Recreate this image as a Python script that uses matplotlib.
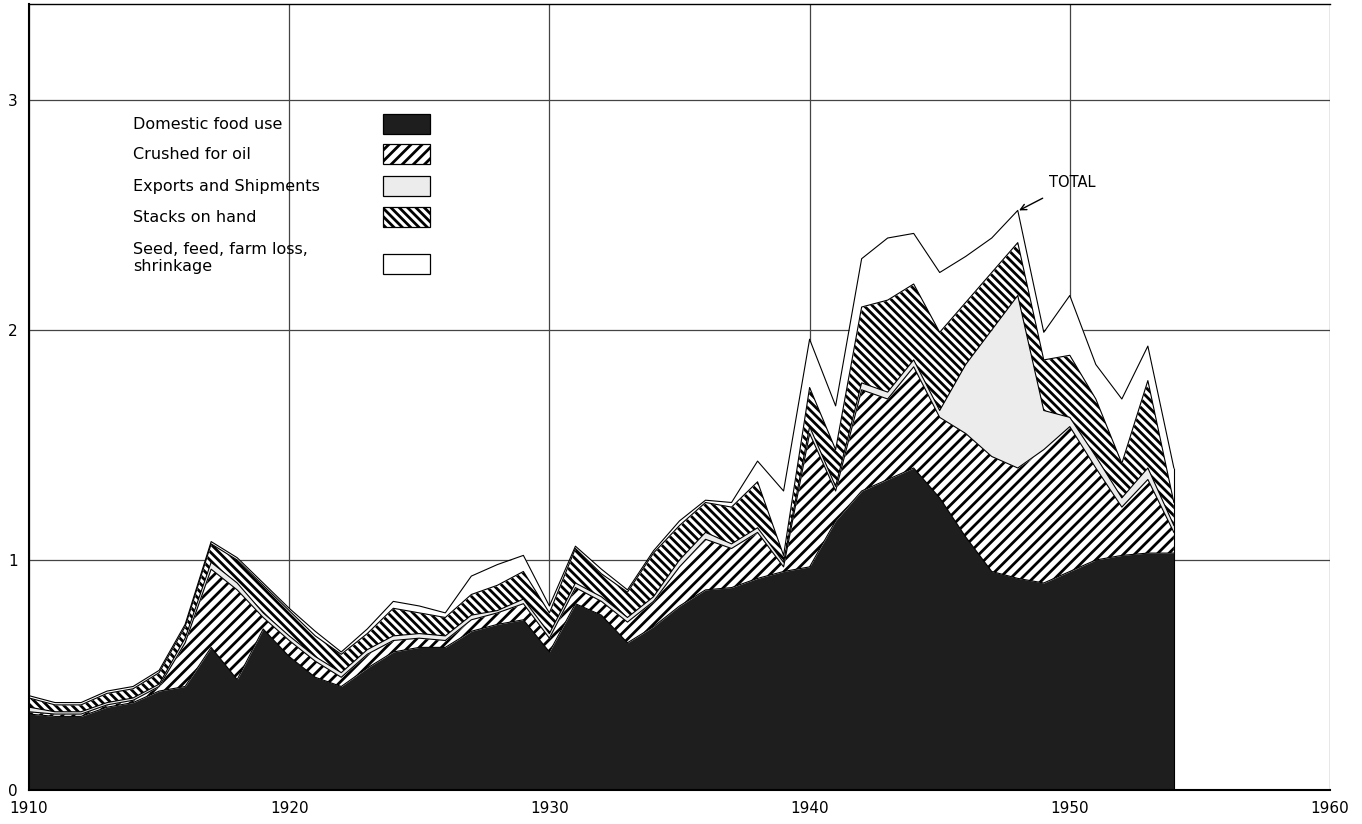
import numpy as np
import matplotlib
matplotlib.use("Agg")
from matplotlib import pyplot as plt
from matplotlib.patches import Rectangle

years = list(range(1910, 1955))

# layer values, bottom to top
food = [.33, .32, .32, .36, .38, .43, .45, .62, .48, .70,
        .58, .49, .45, .53, .60, .62, .62, .69, .72, .74,
        .60, .81, .76, .64, .71, .80, .87, .88, .92, .95,
        .97, 1.17, 1.30, 1.35, 1.40, 1.27, 1.10, .95, .92, .90,
        .95, 1.00, 1.02, 1.03, 1.03]
crushed = [.01, .01, .01, .01, .01, .02, .19, .34, .39, .05,
           .07, .07, .04, .06, .05, .04, .03, .05, .05, .07,
           .06, .07, .06, .09, .11, .17, .22, .17, .20, .02,
           .58, .13, .44, .35, .44, .35, .45, .50, .48, .58,
           .63, .40, .21, .32, .09]
exports = [.02, .01, .01, .01, .01, .01, .02, .03, .03, .02,
           .02, .02, .02, .02, .02, .02, .02, .02, .01, .02,
           .02, .02, .02, .02, .02, .03, .03, .02, .02, .02,
           .03, .02, .03, .03, .03, .03, .30, .55, .75, .17,
           .04, .05, .04, .05, .03]
stocks = [.04, .03, .03, .04, .04, .05, .05, .08, .10, .12,
          .11, .09, .08, .07, .12, .09, .08, .09, .11, .12,
          .09, .15, .10, .11, .19, .15, .13, .16, .20, .03,
          .17, .16, .33, .40, .33, .34, .27, .25, .23, .22,
          .27, .25, .15, .38, .10]
seed = [.01, .01, .01, .01, .01, .01, .01, .01, .01, .01,
        .01, .02, .01, .02, .03, .03, .02, .08, .09, .07,
        .03, .01, .02, .01, .01, .02, .01, .02, .09, .28,
        .21, .19, .21, .27, .22, .26, .20, .15, .14, .12,
        .26, .15, .28, .15, .15]

labels = ['Domestic food use', 'Crushed for oil', 'Exports and Shipments',
          'Stacks on hand', 'Seed, feed, farm loss,\nshrinkage']

plt.rcParams['hatch.linewidth'] = 2.0

fig = plt.figure(figsize=(13.62, 8.24), dpi=100)
ax = fig.add_axes([0.0213, 0.0413, 0.9552, 0.9537])

x = np.array(years)
layers = [food, crushed, exports, stocks, seed]
faces = ['#1e1e1e', 'white', '#ececec', 'white', 'white']
hatches = [None, '///', None, '\\\\\\\\', None]

bottom = np.zeros(len(x))
for vals, fc, h in zip(layers, faces, hatches):
    top = bottom + np.array(vals)
    ax.fill_between(x, bottom, top, facecolor=fc, edgecolor='black',
                    hatch=h, linewidth=0, zorder=2)
    ax.plot(x, top, color='black', lw=0.8, zorder=3)
    bottom = top
ax.vlines(x[-1], 0, bottom[-1], color='black', lw=0.8, zorder=3)

ax.annotate('TOTAL', xy=(1948.05, bottom[38]), xytext=(1950.1, 2.64),
            ha='center', va='center', fontsize=10.5,
            arrowprops=dict(arrowstyle='->', color='black', lw=1,
                            shrinkA=8, shrinkB=0))

ax.set_xlim(1910, 1960)
ax.set_ylim(0, 3.417)
ax.set_xticks(range(1910, 1961, 10))
ax.set_yticks([0, 1, 2, 3])
ax.grid(True, color='#444444', lw=0.9, zorder=1)
ax.tick_params(length=0, labelsize=11, pad=8)
ax.spines['right'].set_visible(False)
for s in ['left', 'bottom']:
    ax.spines[s].set_linewidth(1.5)
ax.spines['top'].set_linewidth(1.0)

# legend: text on the left, swatch on the right
text_y = [0.847, 0.809, 0.768, 0.729, 0.677]
box_y = [0.847, 0.809, 0.768, 0.729, 0.669]
for lab, ty, by, fc, h in zip(labels, text_y, box_y, faces, hatches):
    ax.text(0.08, ty, lab, transform=ax.transAxes, ha='left', va='center',
            fontsize=11.5, linespacing=1.15, zorder=5)
    ax.add_patch(Rectangle((0.272, by - 0.0127), 0.0361, 0.0254,
                           transform=ax.transAxes, facecolor=fc,
                           edgecolor='black', hatch=h, lw=0.9, zorder=5))

fig.savefig('out.png', dpi=100)
